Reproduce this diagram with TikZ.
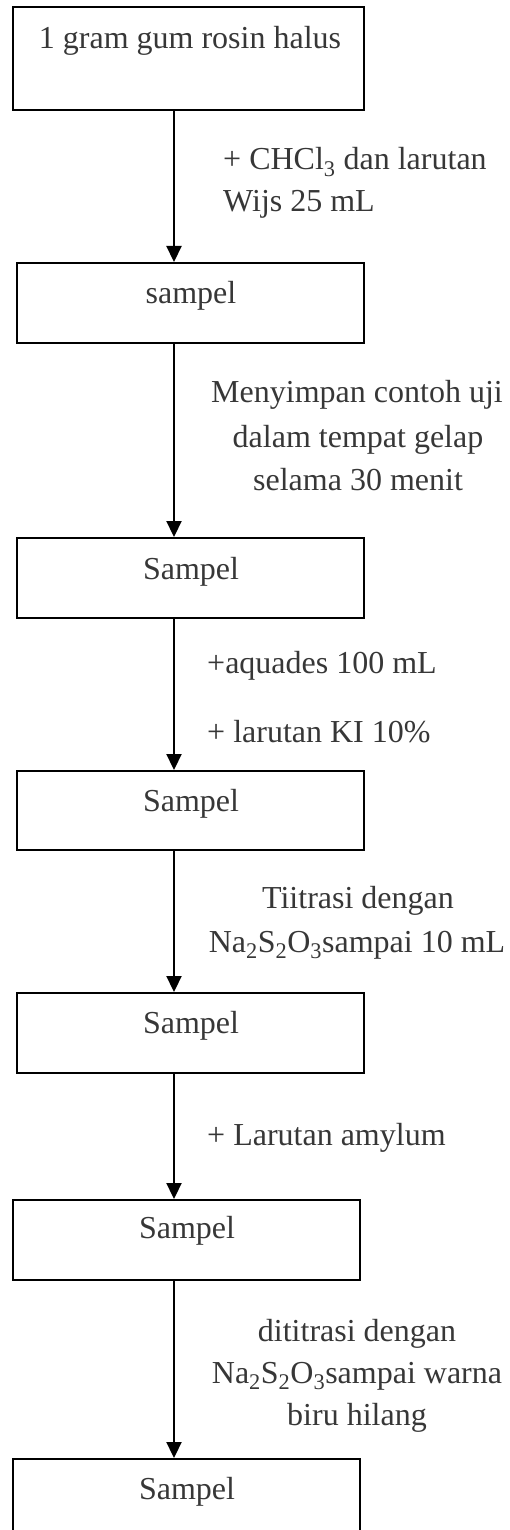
\documentclass[tikz,border=0pt]{standalone}
\usepackage{fontspec}
\setmainfont{Liberation Serif}
\usetikzlibrary{arrows.meta}
\definecolor{txt}{RGB}{55,55,55}
\tikzset{
  box/.style={draw=black, line width=2pt, inner sep=0pt},
  lbl/.style={text=txt, inner sep=0pt, font=\fontsize{32}{42}\selectfont},
  flow/.style={draw=black, line width=2.2pt, -{Triangle[length=16pt,width=15pt]}}
}
\begin{document}
\begin{tikzpicture}[x=1pt,y=-1pt]
\useasboundingbox (0,0) rectangle (510,1530);
% boxes
\node[box, minimum width=351pt, minimum height=103pt] (b1) at (188.5,58.5) {};
\node[box, minimum width=347pt, minimum height=80pt] (b2) at (190.5,303) {};
\node[box, minimum width=347pt, minimum height=80pt] (b3) at (190.5,578) {};
\node[box, minimum width=347pt, minimum height=79pt] (b4) at (190.5,810.5) {};
\node[box, minimum width=347pt, minimum height=80pt] (b5) at (190.5,1033) {};
\node[box, minimum width=347pt, minimum height=80pt] (b6) at (186.5,1240) {};
\node[box, minimum width=347pt, minimum height=86pt] (b7) at (186.5,1502) {};
% box texts
\node[lbl, anchor=base] (t1) at (190,49) {1 gram gum rosin halus};
\node[lbl, anchor=base] (t2) at (191,303) {sampel};
\node[lbl, anchor=base] (t3) at (191,579) {Sampel};
\node[lbl, anchor=base] (t4) at (191,811) {Sampel};
\node[lbl, anchor=base] (t5) at (191,1033) {Sampel};
\node[lbl, anchor=base] (t6) at (187,1238) {Sampel};
\node[lbl, anchor=base] (t7) at (187,1499) {Sampel};
% arrows
\coordinate (ax) at (174,0);
\draw[flow] (b1.south -| ax) -- (b2.north -| ax);
\draw[flow] (b2.south -| ax) -- (b3.north -| ax);
\draw[flow] (b3.south -| ax) -- (b4.north -| ax);
\draw[flow] (b4.south -| ax) -- (b5.north -| ax);
\draw[flow] (b5.south -| ax) -- (b6.north -| ax);
\draw[flow] (b6.south -| ax) -- (b7.north -| ax);
% step labels
\node[lbl, anchor=base west] (l1a) at (223,170) {+ CHCl\textsubscript{3} dan larutan};
\node[lbl, anchor=base west] (l1b) at (223,212) {Wijs 25 mL};
\node[lbl, anchor=base] (l2a) at (357,402) {Menyimpan contoh uji};
\node[lbl, anchor=base] (l2b) at (358,447) {dalam tempat gelap};
\node[lbl, anchor=base] (l2c) at (358,490) {selama 30 menit};
\node[lbl, anchor=base west] (l3a) at (207,673) {+aquades 100 mL};
\node[lbl, anchor=base west] (l3b) at (207,742) {+ larutan KI 10\%};
\node[lbl, anchor=base] (l4a) at (358,908) {Tiitrasi dengan};
\node[lbl, anchor=base] (l4b) at (357,952) {Na\textsubscript{2}S\textsubscript{2}O\textsubscript{3}sampai 10 mL};
\node[lbl, anchor=base west] (l5) at (207,1145) {+ Larutan amylum};
\node[lbl, anchor=base] (l6a) at (357,1341) {dititrasi dengan};
\node[lbl, anchor=base] (l6b) at (357,1383) {Na\textsubscript{2}S\textsubscript{2}O\textsubscript{3}sampai warna};
\node[lbl, anchor=base] (l6c) at (357,1425) {biru hilang};
\end{tikzpicture}
\end{document}
